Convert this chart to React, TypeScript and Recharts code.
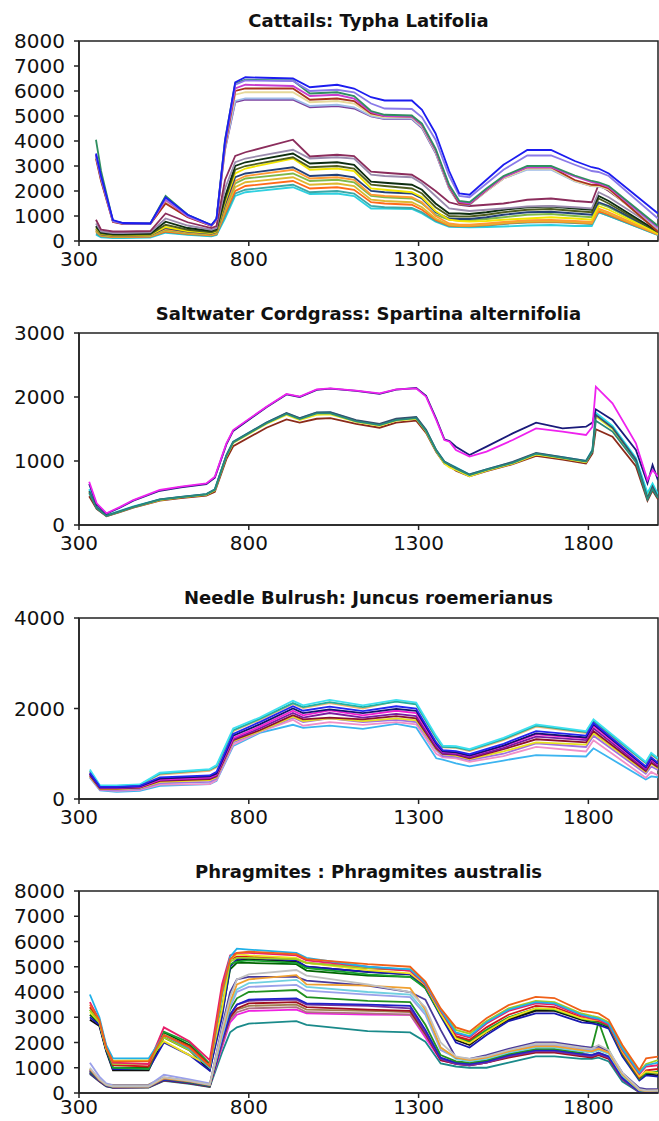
import { LineChart, Line, XAxis, YAxis, ReferenceArea } from 'recharts'

// wavelength ticks shared by all panels
const X_TICKS = [300, 800, 1300, 1800]

// ---- Cattails: Typha Latifolia ----
const P1_WL = [350, 365, 400, 430, 510, 555, 620, 690, 705, 730, 760, 790, 930, 980, 1060, 1110, 1160, 1200, 1280, 1310, 1350, 1390, 1420, 1450, 1500, 1550, 1620, 1690, 1760, 1810, 1830, 1860, 2005]
const P1_CYAN = [250, 150, 120, 120, 140, 330, 250, 190, 240, 900, 1800, 1950, 2150, 1880, 1900, 1800, 1300, 1300, 1280, 1100, 770, 570, 560, 550, 560, 580, 620, 640, 600, 600, 1150, 1000, 230]
const P1_TEAL = [300, 180, 150, 150, 170, 360, 270, 210, 260, 1000, 1900, 2050, 2250, 1950, 2000, 1900, 1400, 1350, 1320, 1150, 800, 600, 580, 580, 620, 680, 740, 760, 720, 680, 1150, 1000, 240]
const P1_ORANGERED = [380, 200, 160, 160, 180, 380, 290, 230, 280, 1100, 2000, 2200, 2400, 2100, 2150, 2050, 1550, 1500, 1450, 1250, 850, 620, 600, 600, 640, 700, 760, 780, 740, 700, 1200, 1050, 250]
const P1_GOLD = [400, 220, 180, 180, 200, 420, 310, 250, 300, 1200, 2150, 2350, 2550, 2250, 2300, 2200, 1650, 1600, 1550, 1350, 900, 650, 620, 620, 660, 720, 780, 800, 760, 720, 1250, 1100, 260]
const P1_GREEN = [420, 230, 190, 190, 210, 450, 330, 270, 320, 1300, 2300, 2500, 2700, 2400, 2450, 2350, 1800, 1750, 1700, 1500, 1050, 850, 820, 820, 880, 950, 1050, 1080, 1000, 950, 1500, 1350, 320]
const P1_ORANGE = [450, 240, 200, 200, 220, 480, 350, 280, 340, 1350, 2400, 2600, 2850, 2500, 2550, 2450, 1850, 1800, 1750, 1550, 1000, 700, 650, 650, 700, 760, 830, 840, 800, 760, 1300, 1150, 280]
const P1_NAVY = [480, 260, 220, 220, 240, 520, 380, 300, 360, 1450, 2550, 2700, 2950, 2600, 2650, 2550, 2000, 1950, 1900, 1700, 1150, 900, 880, 880, 950, 1050, 1150, 1170, 1100, 1050, 1550, 1400, 350]
const P1_YELLOW = [500, 280, 230, 230, 250, 560, 400, 320, 380, 1550, 2700, 2900, 3300, 2850, 2900, 2800, 2100, 2050, 1950, 1750, 1200, 850, 800, 780, 800, 850, 900, 950, 900, 850, 1400, 1250, 300]
const P1_OLIVE = [550, 300, 250, 250, 270, 650, 450, 350, 420, 1650, 2850, 3000, 3350, 2950, 3000, 2900, 2250, 2200, 2100, 1900, 1350, 1000, 980, 980, 1050, 1150, 1250, 1280, 1200, 1150, 1700, 1500, 350]
const P1_BLACK = [600, 330, 280, 280, 300, 770, 520, 400, 480, 1770, 3000, 3150, 3500, 3100, 3150, 3050, 2370, 2330, 2250, 2050, 1500, 1100, 1100, 1080, 1150, 1250, 1350, 1380, 1300, 1250, 1800, 1600, 380]
const P1_GRAY = [700, 380, 320, 320, 350, 900, 620, 450, 520, 2100, 3150, 3300, 3650, 3300, 3350, 3300, 2650, 2600, 2550, 2300, 1800, 1300, 1250, 1200, 1250, 1300, 1380, 1400, 1350, 1300, 1950, 1750, 480]
const P1_MAROON = [850, 450, 380, 380, 400, 1100, 750, 520, 600, 2440, 3400, 3550, 4050, 3380, 3450, 3400, 2770, 2730, 2650, 2400, 2000, 1550, 1450, 1400, 1450, 1500, 1650, 1700, 1600, 1550, 2250, 2000, 550]
const P1_PURPLE = [3450, 2500, 790, 700, 700, 1600, 990, 630, 870, 3650, 5550, 5650, 5650, 5350, 5400, 5300, 4980, 4880, 4880, 4520, 3520, 2100, 1480, 1460, 2000, 2500, 2880, 2880, 2400, 2200, 2200, 2050, 450]
const P1_LIGHTBLUE = [3400, 2450, 780, 700, 700, 1600, 980, 620, 860, 3700, 5600, 5700, 5700, 5400, 5450, 5350, 5000, 4900, 4900, 4550, 3550, 2100, 1480, 1460, 2000, 2500, 2850, 2850, 2380, 2200, 2180, 2050, 500]
const P1_KHAKI = [3350, 2450, 770, 690, 690, 1550, 960, 610, 860, 3800, 5850, 5950, 5950, 5550, 5600, 5500, 5050, 4950, 4950, 4600, 3600, 2150, 1500, 1480, 2000, 2500, 2900, 2900, 2400, 2200, 2200, 2050, 400]
const P1_BROWN = [3300, 2400, 760, 680, 680, 1500, 950, 600, 850, 3800, 6000, 6100, 6100, 5650, 5700, 5600, 5100, 5000, 4980, 4640, 3640, 2170, 1500, 1480, 2040, 2570, 2950, 2950, 2440, 2250, 2240, 2100, 370]
const P1_MAGENTA = [3450, 2550, 780, 700, 690, 1650, 980, 620, 860, 3900, 6100, 6250, 6200, 5800, 5850, 5700, 5150, 5000, 4980, 4650, 3650, 2200, 1550, 1500, 2050, 2550, 2950, 2950, 2580, 2350, 2300, 2150, 550]
const P1_SEAGREEN = [4050, 2800, 800, 710, 700, 1800, 1050, 640, 900, 4050, 6300, 6450, 6420, 5900, 5950, 5800, 5200, 5050, 5020, 4700, 3700, 2250, 1600, 1550, 2100, 2600, 3000, 3000, 2620, 2400, 2350, 2200, 600]
const P1_VIOLET = [3400, 2500, 800, 700, 690, 1700, 1000, 620, 880, 3950, 6250, 6420, 6400, 6000, 6050, 5950, 5500, 5300, 5280, 4950, 4050, 2600, 1800, 1750, 2300, 2850, 3420, 3420, 3050, 2800, 2760, 2600, 900]
const P1_BLUE = [3500, 2600, 840, 720, 700, 1750, 1050, 640, 900, 4000, 6350, 6550, 6500, 6150, 6250, 6100, 5750, 5620, 5620, 5250, 4300, 2800, 1900, 1850, 2450, 3050, 3640, 3640, 3200, 2950, 2900, 2700, 1100]
const P1_SERIES = [P1_CYAN, P1_TEAL, P1_ORANGERED, P1_GOLD, P1_GREEN, P1_ORANGE, P1_NAVY, P1_YELLOW, P1_OLIVE, P1_BLACK, P1_GRAY, P1_MAROON,
  P1_PURPLE, P1_LIGHTBLUE, P1_KHAKI, P1_BROWN, P1_MAGENTA, P1_SEAGREEN, P1_VIOLET, P1_BLUE]
const P1_COLORS = ['#2ed0e0', '#3aa8a8', '#ff6a1a', '#ddb830', '#80b848', '#ff9933', '#23407a', '#f2e600', '#4e5e20', '#0d2e10', '#9a8cae', '#8b2d5c',
  '#7b3f9e', '#9dbbe8', '#e6d99a', '#a8321e', '#c83ccf', '#2f8f60', '#8a7ae8', '#1c1cf0']

// ---- Saltwater Cordgrass: Spartina alternifolia ----
const P2_WL = [330, 352, 381, 420, 460, 538, 600, 675, 700, 734, 754, 852, 911, 950, 1000, 1040, 1116, 1185, 1234, 1293, 1322, 1352, 1376, 1391, 1410, 1450, 1500, 1577, 1646, 1724, 1793, 1812, 1822, 1871, 1940, 1974, 1989, 2005]
const P2_BROWN = [450, 250, 135, 200, 270, 380, 420, 460, 520, 1030, 1230, 1520, 1650, 1600, 1660, 1670, 1580, 1520, 1600, 1630, 1440, 1140, 960, 920, 850, 760, 840, 950, 1080, 1020, 960, 1120, 1497, 1380, 920, 380, 540, 400]
const P2_YELLOW = [520, 270, 145, 210, 280, 390, 430, 470, 540, 1070, 1280, 1580, 1720, 1640, 1720, 1730, 1610, 1550, 1630, 1660, 1460, 1150, 960, 900, 860, 760, 850, 960, 1100, 1040, 980, 1160, 1693, 1500, 1000, 470, 620, 450]
const P2_CYAN = [560, 280, 150, 220, 290, 400, 440, 484, 560, 1094, 1302, 1599, 1745, 1667, 1755, 1760, 1630, 1570, 1650, 1680, 1480, 1170, 990, 950, 900, 790, 870, 980, 1120, 1060, 1000, 1180, 1755, 1550, 1050, 500, 650, 480]
const P2_SLATE = [530, 275, 148, 215, 285, 400, 440, 484, 555, 1090, 1300, 1600, 1750, 1670, 1760, 1765, 1640, 1580, 1660, 1690, 1490, 1170, 990, 950, 895, 790, 870, 985, 1125, 1060, 1000, 1170, 1720, 1520, 1020, 420, 600, 440]
const P2_TEAL = [500, 260, 140, 210, 280, 395, 435, 480, 550, 1080, 1290, 1590, 1735, 1655, 1745, 1745, 1620, 1560, 1640, 1670, 1470, 1160, 980, 940, 880, 780, 860, 970, 1115, 1050, 990, 1150, 1630, 1460, 980, 400, 560, 420]
const P2_NAVY = [640, 320, 175, 270, 380, 535, 590, 640, 740, 1260, 1470, 1840, 2040, 2000, 2110, 2130, 2095, 2050, 2115, 2140, 2020, 1660, 1340, 1310, 1224, 1094, 1224, 1432, 1599, 1510, 1536, 1600, 1807, 1641, 1172, 651, 937, 700]
const P2_MAGENTA = [677, 339, 183, 280, 390, 547, 600, 651, 755, 1276, 1484, 1849, 2047, 2005, 2120, 2135, 2100, 2057, 2120, 2135, 2005, 1641, 1328, 1302, 1172, 1068, 1146, 1328, 1510, 1458, 1406, 1536, 2161, 1901, 1276, 703, 859, 755]
const P2_SERIES = [P2_BROWN, P2_YELLOW, P2_CYAN, P2_SLATE, P2_TEAL, P2_NAVY, P2_MAGENTA]
const P2_COLORS = ['#8b2a1a', '#eeee22', '#22e0e8', '#34506e', '#2a8a7a', '#1a1a7a', '#ee22ee']

// ---- Needle Bulrush: Juncus roemerianus ----
const P3_WL = [332, 362, 411, 479, 538, 685, 705, 754, 832, 930, 960, 1038, 1136, 1234, 1293, 1352, 1371, 1410, 1450, 1550, 1646, 1793, 1815, 1969, 1985, 2005]
const P3_SKY = [470, 190, 160, 180, 290, 330, 400, 1170, 1460, 1640, 1570, 1620, 1550, 1660, 1580, 900, 870, 790, 720, 850, 970, 940, 1120, 430, 500, 480]
const P3_PINK = [480, 200, 180, 200, 320, 330, 420, 1200, 1480, 1750, 1620, 1700, 1640, 1700, 1650, 1000, 920, 900, 820, 950, 1150, 1050, 1300, 470, 600, 520]
const P3_VIOLET = [500, 210, 200, 220, 350, 380, 450, 1250, 1500, 1800, 1700, 1780, 1700, 1750, 1700, 1080, 950, 930, 860, 1000, 1230, 1150, 1400, 560, 720, 640]
const P3_YELLOW = [500, 220, 220, 240, 380, 420, 480, 1280, 1500, 1820, 1720, 1780, 1720, 1780, 1740, 1100, 990, 960, 880, 1050, 1250, 1200, 1450, 600, 780, 680]
const P3_DARKRED = [520, 230, 230, 250, 400, 440, 500, 1300, 1520, 1850, 1760, 1800, 1760, 1830, 1780, 1120, 1000, 980, 900, 1100, 1320, 1250, 1500, 620, 800, 700]
const P3_PURPLE = [540, 240, 240, 260, 420, 460, 520, 1320, 1560, 1900, 1800, 1900, 1800, 1880, 1830, 1150, 1010, 990, 920, 1130, 1380, 1300, 1560, 650, 850, 730]
const P3_PEACH = [600, 270, 280, 300, 540, 620, 700, 1500, 1750, 2100, 2010, 2120, 2000, 2170, 2100, 1340, 1140, 1130, 1060, 1300, 1600, 1460, 1710, 790, 980, 870]
const P3_TEAL = [620, 280, 290, 310, 560, 650, 720, 1520, 1770, 2120, 2030, 2140, 2030, 2150, 2090, 1350, 1150, 1140, 1080, 1320, 1620, 1480, 1730, 800, 1000, 880]
const P3_CYAN = [650, 300, 300, 320, 580, 660, 750, 1560, 1800, 2170, 2070, 2190, 2070, 2190, 2130, 1390, 1180, 1170, 1100, 1350, 1650, 1500, 1760, 820, 1020, 900]
const P3_MAGENTA = [560, 250, 250, 270, 430, 480, 540, 1350, 1600, 1950, 1850, 1960, 1850, 1950, 1900, 1200, 1040, 1020, 950, 1170, 1430, 1340, 1620, 680, 880, 760]
const P3_NAVY = [560, 260, 260, 280, 450, 500, 560, 1400, 1650, 2000, 1900, 1980, 1900, 1990, 1950, 1220, 1050, 1030, 960, 1180, 1450, 1360, 1650, 700, 900, 780]
const P3_BLUE = [580, 270, 270, 290, 480, 520, 600, 1440, 1700, 2050, 1950, 2040, 1940, 2050, 2000, 1250, 1080, 1060, 990, 1220, 1500, 1400, 1680, 720, 920, 800]
const P3_SERIES = [P3_SKY, P3_PINK, P3_VIOLET, P3_YELLOW, P3_DARKRED, P3_PURPLE, P3_PEACH, P3_TEAL, P3_CYAN, P3_MAGENTA, P3_NAVY, P3_BLUE]
const P3_COLORS = ['#3cb4f0', '#f090c8', '#a070e0', '#e6e020', '#8a1030', '#7a1aa0', '#f4b070', '#22b0a0', '#3ee0f0', '#f020d0', '#121270', '#2424f0']

// ---- Phragmites : Phragmites australis ----
const P4_WL = [332, 360, 380, 400, 505, 550, 625, 685, 721, 745, 765, 800, 940, 970, 1150, 1275, 1320, 1365, 1410, 1450, 1500, 1565, 1645, 1700, 1780, 1810, 1830, 1860, 1900, 1950, 1970, 2005]
const P4_TEAL = [750, 450, 260, 200, 210, 480, 360, 240, 1600, 2400, 2600, 2750, 2850, 2700, 2450, 2400, 2030, 1170, 1050, 1000, 1000, 1200, 1450, 1450, 1350, 1350, 1400, 1250, 450, 30, 20, 30]
const P4_MAGENTA = [900, 520, 320, 240, 250, 600, 450, 300, 1800, 2800, 3100, 3250, 3300, 3150, 3100, 3100, 2200, 1300, 1150, 1100, 1200, 1450, 1650, 1650, 1500, 1450, 1550, 1400, 550, 50, 30, 40]
const P4_ROSY = [880, 500, 300, 230, 240, 560, 430, 290, 1900, 2900, 3200, 3350, 3400, 3200, 3150, 3100, 2300, 1350, 1200, 1150, 1250, 1500, 1700, 1700, 1550, 1500, 1580, 1400, 550, 50, 30, 40]
const P4_KHAKI = [900, 520, 340, 320, 330, 620, 480, 330, 1950, 3000, 3300, 3450, 3500, 3300, 3250, 3200, 2350, 1350, 1200, 1150, 1250, 1500, 1700, 1700, 1550, 1500, 1600, 1450, 600, 60, 40, 60]
const P4_DARKRED = [780, 460, 270, 210, 220, 500, 380, 250, 2000, 3000, 3350, 3550, 3600, 3400, 3300, 3250, 2350, 1300, 1150, 1100, 1200, 1400, 1600, 1600, 1450, 1400, 1500, 1350, 550, 40, 30, 40]
const P4_PURPLE = [820, 480, 290, 220, 230, 540, 410, 280, 2000, 3100, 3500, 3650, 3700, 3500, 3450, 3350, 2400, 1350, 1150, 1100, 1200, 1450, 1650, 1650, 1500, 1450, 1550, 1400, 550, 40, 30, 40]
const P4_BLUE = [800, 480, 280, 220, 230, 520, 400, 270, 2100, 3100, 3500, 3700, 3750, 3550, 3500, 3450, 2500, 1400, 1200, 1150, 1250, 1500, 1700, 1700, 1550, 1500, 1600, 1450, 600, 60, 50, 60]
const P4_GREEN = [850, 500, 300, 230, 240, 560, 420, 280, 2300, 3300, 3750, 4000, 4080, 3800, 3650, 3600, 2700, 1500, 1250, 1200, 1300, 1550, 1750, 1750, 1600, 1770, 2820, 1700, 700, 100, 80, 100]
const P4_LILAC = [1200, 650, 380, 300, 300, 720, 540, 380, 2200, 3400, 4000, 4200, 4280, 4050, 3900, 3800, 3100, 1700, 1400, 1300, 1400, 1650, 1900, 1900, 1750, 1700, 1800, 1600, 750, 150, 100, 120]
const P4_AQUA = [950, 520, 320, 250, 250, 600, 460, 320, 2300, 3500, 4100, 4350, 4480, 4200, 4000, 3900, 3200, 1800, 1350, 1250, 1350, 1600, 1800, 1800, 1650, 1600, 1700, 1550, 700, 100, 80, 100]
const P4_SLATE = [900, 500, 300, 240, 240, 560, 440, 300, 2600, 4000, 4500, 4600, 4600, 4450, 4250, 4000, 3700, 2500, 1400, 1350, 1500, 1750, 2000, 2000, 1850, 1800, 1850, 1650, 800, 200, 150, 150]
const P4_ORANGE = [950, 520, 320, 250, 250, 580, 460, 320, 2400, 3600, 4300, 4500, 4670, 4300, 4250, 4150, 3300, 1800, 1400, 1300, 1400, 1650, 1850, 1850, 1700, 1650, 1750, 1600, 750, 120, 80, 100]
const P4_SILVER = [1000, 550, 330, 260, 260, 620, 480, 330, 2500, 3800, 4500, 4700, 4870, 4650, 4300, 4000, 3400, 2000, 1450, 1350, 1450, 1700, 1950, 1950, 1800, 1750, 1900, 1700, 800, 150, 100, 100]
const P4_DKGREEN = [3100, 2750, 1700, 1000, 1000, 2400, 1900, 1100, 3100, 4900, 5150, 5150, 5100, 4850, 4650, 4600, 4200, 3100, 2150, 2000, 2450, 2950, 3300, 3300, 2950, 2850, 2800, 2650, 1550, 600, 800, 800]
const P4_BLACK = [2900, 2650, 1650, 900, 900, 2200, 1700, 900, 3200, 5050, 5250, 5300, 5200, 5000, 4800, 4700, 4200, 3100, 2100, 1900, 2400, 2900, 3250, 3250, 2900, 2800, 2780, 2600, 1500, 550, 750, 700]
const P4_NAVY = [3000, 2700, 1700, 950, 950, 2000, 1500, 880, 3000, 5000, 5300, 5350, 5250, 5000, 4800, 4700, 4150, 3050, 2000, 1800, 2300, 2850, 3150, 3150, 2800, 2760, 2700, 2550, 1450, 500, 700, 650]
const P4_GREEN2 = [3300, 2800, 1750, 1000, 950, 2430, 2000, 1150, 3400, 5100, 5200, 5250, 5150, 4950, 4700, 4600, 4150, 3100, 2200, 2050, 2500, 3000, 3350, 3300, 2950, 2850, 2800, 2650, 1550, 550, 800, 850]
const P4_RED = [3400, 2850, 1800, 1100, 1050, 2300, 1850, 1100, 4100, 5300, 5400, 5400, 5300, 5150, 4950, 4850, 4250, 3200, 2250, 2100, 2600, 3100, 3450, 3400, 3000, 2900, 2850, 2700, 1600, 600, 900, 950]
const P4_YELLOW = [3200, 2800, 1750, 1280, 1300, 2050, 1500, 1100, 3300, 5300, 5500, 5450, 5350, 5150, 4870, 4740, 4280, 3150, 2160, 1970, 2430, 2960, 3350, 3330, 2960, 2900, 2890, 2760, 1640, 650, 850, 800]
const P4_LIME = [3300, 2800, 1800, 1150, 1150, 2200, 1700, 1000, 3900, 5200, 5350, 5350, 5300, 5150, 4950, 4900, 4350, 3300, 2500, 2350, 2850, 3350, 3650, 3600, 3150, 3050, 3000, 2800, 1800, 850, 1150, 1300]
const P4_CRIMSON = [3600, 2900, 1850, 1200, 1150, 2600, 2050, 1300, 4300, 5450, 5550, 5550, 5450, 5250, 5000, 4850, 4300, 3250, 2350, 2200, 2750, 3250, 3550, 3500, 3050, 2950, 2900, 2700, 1700, 750, 1050, 1100]
const P4_SKY = [3900, 3000, 1900, 1370, 1370, 2300, 1750, 1000, 3900, 5400, 5720, 5680, 5550, 5350, 5000, 4900, 4350, 3300, 2400, 2250, 2800, 3300, 3600, 3550, 3100, 3000, 2950, 2750, 1750, 800, 1100, 1200]
const P4_ORANGERED = [3500, 2900, 1800, 1250, 1250, 2300, 1800, 1050, 4000, 5300, 5550, 5600, 5500, 5300, 5100, 5000, 4410, 3350, 2600, 2430, 2960, 3480, 3810, 3760, 3250, 3200, 3150, 2900, 1900, 910, 1370, 1440]
const P4_SERIES = [P4_TEAL, P4_MAGENTA, P4_ROSY, P4_KHAKI, P4_DARKRED, P4_PURPLE, P4_BLUE, P4_GREEN, P4_LILAC, P4_AQUA, P4_SLATE, P4_ORANGE, P4_SILVER,
  P4_DKGREEN, P4_BLACK, P4_NAVY, P4_GREEN2, P4_RED, P4_YELLOW, P4_LIME, P4_CRIMSON, P4_SKY, P4_ORANGERED]
const P4_COLORS = ['#1a8a8a', '#f020e0', '#b07080', '#a08050', '#a01020', '#7030a0', '#2020c8', '#209020', '#9aa0ea', '#70d0e0', '#4a3a9a', '#f0a030', '#c0c0c0',
  '#006400', '#101010', '#1818b0', '#18a030', '#d01818', '#f0e020', '#a0d020', '#e8206a', '#20b0e8', '#f06018']

const AXIS = '#222'
const TICK_STYLE = { fill: '#111', fontSize: 20, fontFamily: 'DejaVu Sans, sans-serif' }

function buildRows(wl: number[], series: number[][]) {
  return wl.map((w, i) => {
    const row: Record<string, number> = { w }
    series.forEach((s, j) => { row['s' + j] = s[i] })
    return row
  })
}

interface PanelProps {
  title: string
  titleTop: number
  plotTop: number
  plotBottom: number
  axisH: number
  xGap: number
  yMax: number
  yTicks: number[]
  wl: number[]
  series: number[][]
  colors: string[]
}

function Panel({ title, titleTop, plotTop, plotBottom, axisH, xGap, yMax, yTicks, wl, series, colors }: PanelProps) {
  const data = buildRows(wl, series)
  const pad = 12
  return (
    <>
      <div style={{
        position: 'absolute', left: 79, width: 579, top: titleTop, textAlign: 'center',
        fontFamily: 'DejaVu Sans, sans-serif', fontWeight: 'bold', fontSize: 18, lineHeight: '20px', color: '#111', whiteSpace: 'nowrap',
      }}>{title}</div>
      <div style={{ position: 'absolute', left: 0, top: plotTop - pad }}>
        <LineChart width={659} height={plotBottom - plotTop + pad + axisH} data={data} margin={{ top: pad, right: 1, bottom: 0, left: 0 }}>
          <XAxis dataKey="w" type="number" domain={[300, 2005]} ticks={X_TICKS} interval={0} allowDataOverflow height={axisH}
            tickSize={5} tickMargin={xGap} tick={TICK_STYLE} axisLine={{ stroke: AXIS, strokeWidth: 1.5 }} tickLine={{ stroke: AXIS, strokeWidth: 1.5 }} />
          <YAxis type="number" domain={[0, yMax]} ticks={yTicks} interval={0} allowDataOverflow width={79}
            tickSize={5} tickMargin={9} tick={TICK_STYLE} axisLine={{ stroke: AXIS, strokeWidth: 1.5 }} tickLine={{ stroke: AXIS, strokeWidth: 1.5 }} />
          {series.map((_, j) => (
            <Line key={j} type="linear" dataKey={'s' + j} stroke={colors[j]} strokeWidth={1.8} dot={false} activeDot={false} isAnimationActive={false} />
          ))}
          <ReferenceArea x1={300} x2={2005} y1={0} y2={yMax} fill="none" fillOpacity={0} stroke={AXIS} strokeWidth={1.5} />
        </LineChart>
      </div>
    </>
  )
}

export default function App() {
  return (
    <div style={{ position: 'absolute', left: 0, top: 0, width: 659, height: 1121, overflow: 'hidden', background: '#fff' }}>
      <Panel title="Cattails: Typha Latifolia" titleTop={11} plotTop={41} plotBottom={241} axisH={38} xGap={6} yMax={8000}
        yTicks={[0, 1000, 2000, 3000, 4000, 5000, 6000, 7000, 8000]} wl={P1_WL} series={P1_SERIES} colors={P1_COLORS} />
      <Panel title="Saltwater Cordgrass: Spartina alternifolia" titleTop={304} plotTop={333} plotBottom={525} axisH={38} xGap={6} yMax={3000}
        yTicks={[0, 1000, 2000, 3000]} wl={P2_WL} series={P2_SERIES} colors={P2_COLORS} />
      <Panel title="Needle Bulrush: Juncus roemerianus" titleTop={588} plotTop={618} plotBottom={799} axisH={38} xGap={6} yMax={4000}
        yTicks={[0, 2000, 4000]} wl={P3_WL} series={P3_SERIES} colors={P3_COLORS} />
      <Panel title="Phragmites : Phragmites australis" titleTop={862} plotTop={891} plotBottom={1093} axisH={28} xGap={2} yMax={8000}
        yTicks={[0, 1000, 2000, 3000, 4000, 5000, 6000, 7000, 8000]} wl={P4_WL} series={P4_SERIES} colors={P4_COLORS} />
    </div>
  )
}
